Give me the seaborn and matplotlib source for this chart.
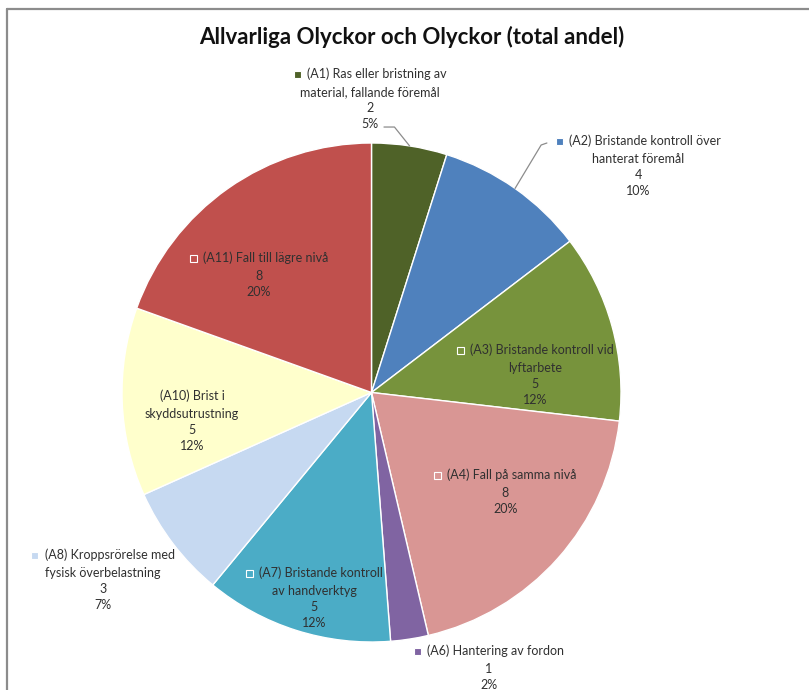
import os

os.environ.setdefault("MPLBACKEND", "Agg")

import matplotlib
matplotlib.use("Agg")
import matplotlib.pyplot as plt
from matplotlib.lines import Line2D
from matplotlib.offsetbox import AnnotationBbox, DrawingArea, HPacker, TextArea, VPacker
from matplotlib.patches import Rectangle
import numpy as np
import seaborn as sns

TITLE = "Allvarliga Olyckor och Olyckor (total andel)"
CODES = ["A1", "A2", "A3", "A4", "A6", "A7", "A8", "A10", "A11"]
NAMES = [
    "Ras eller bristning av\nmaterial, fallande föremål",
    "Bristande kontroll över\nhanterat föremål",
    "Bristande kontroll vid\nlyftarbete",
    "Fall på samma nivå",
    "Hantering av fordon",
    "Bristande kontroll\nav handverktyg",
    "Kroppsrörelse med\nfysisk överbelastning",
    "Brist i\nskyddsutrustning",
    "Fall till lägre nivå",
]
COUNTS = [2, 4, 5, 8, 1, 5, 3, 5, 8]
COLORS = ["#4F6228", "#4F81BD", "#77933C", "#D99694", "#8064A2",
          "#4BACC6", "#C6D9F1", "#FFFFCC", "#C0504D"]

# label centres in pie units (radius = 1), picked to match the layout
LABEL_XY = {
    "A1": (-0.006, 1.176), "A2": (1.070, 0.908), "A3": (0.657, 0.070),
    "A4": (0.537, -0.399), "A6": (0.471, -1.104), "A7": (-0.230, -0.824),
    "A8": (-1.076, -0.752), "A10": (-0.719, -0.114), "A11": (-0.451, 0.471),
}
NO_KEY = {"A10"}
# label-side points of leader lines
LEADERS = {
    "A1": [(0.050, 1.064), (0.092, 1.064)],
    "A2": [(0.703, 1.000), (0.680, 0.992)],
}

TEXT_COLOR = "#303030"
FONT_SIZE = 9


def label_box(code, name, count, pct, color, key):
    lines = f"({code}) {name}".split("\n")
    props = dict(color=TEXT_COLOR, fontsize=FONT_SIZE)
    first = TextArea(lines[0], textprops=props)
    if key:
        da = DrawingArea(5.5, 5.5)
        da.add_artist(Rectangle((0, 0), 5.0, 5.0, facecolor=color,
                                edgecolor="white", linewidth=0.8))
        first = HPacker(children=[da, first], align="center", pad=0, sep=4)
    rest = "\n".join(lines[1:] + [str(count), pct])
    rest_box = TextArea(rest, textprops=dict(props, ha="center",
                                             multialignment="center",
                                             linespacing=1.42))
    return VPacker(children=[first, rest_box], align="center", pad=0, sep=4)


def main():
    sns.set_theme(style="white")
    plt.rcParams["font.family"] = ["Lato", "DejaVu Sans"]

    fig = plt.figure(figsize=(8.09, 6.90), dpi=100)
    ax = fig.add_axes([0, 0, 1, 1])

    wedges, _ = ax.pie(
        COUNTS,
        colors=COLORS,
        startangle=90,
        counterclock=False,
        radius=1.0,
        wedgeprops={"edgecolor": "white", "linewidth": 1.0},
    )

    # centre at (371.5, 392.5) px, radius 249.5 px
    r_px = 249.5
    ax.set_xlim(-371.5 / r_px, (809 - 371.5) / r_px)
    ax.set_ylim(-(690 - 392.5) / r_px, 392.5 / r_px)
    ax.set_aspect("equal", adjustable="box")
    ax.axis("off")

    total = sum(COUNTS)
    for code, name, count, color, wedge in zip(CODES, NAMES, COUNTS, COLORS, wedges):
        pct = f"{100 * count / total:.0f}%"
        box = label_box(code, name, count, pct, color, code not in NO_KEY)
        ab = AnnotationBbox(box, LABEL_XY[code], xycoords="data",
                            frameon=False, box_alignment=(0.5, 0.5), zorder=5)
        ax.add_artist(ab)
        if code in LEADERS:
            mid = np.deg2rad((wedge.theta1 + wedge.theta2) / 2)
            pts = LEADERS[code] + [(np.cos(mid), np.sin(mid))]
            xs, ys = zip(*pts)
            ax.plot(xs, ys, color="#8c8c8c", linewidth=0.9, zorder=4)

    fig.text(412 / 809, 1 - 37 / 690, TITLE, ha="center", va="center",
             fontsize=16, fontweight="bold", color="#111111")

    # chart frame (top and left edges visible)
    fig.add_artist(Line2D([7 / 809, 1], [1 - 9 / 690] * 2,
                          transform=fig.transFigure, color="#8c8c8c", linewidth=1.6))
    fig.add_artist(Line2D([7 / 809] * 2, [0, 1 - 9 / 690],
                          transform=fig.transFigure, color="#8c8c8c", linewidth=1.6))

    fig.savefig("out.png", dpi=100, facecolor="white")
    plt.close(fig)


if __name__ == "__main__":
    main()
